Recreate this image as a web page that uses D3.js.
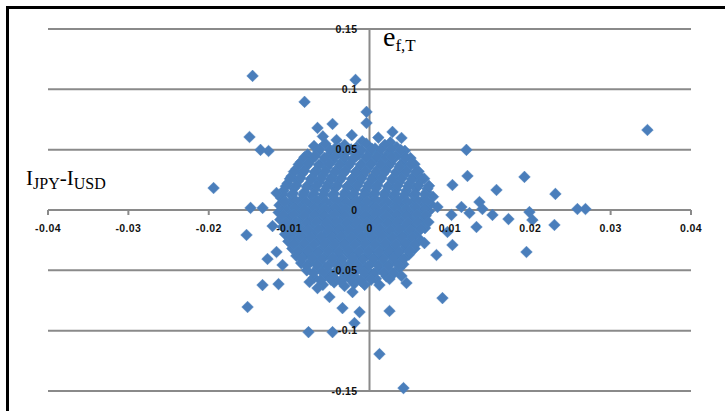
<!DOCTYPE html>
<html><head><meta charset="utf-8">
<script src="https://cdn.jsdelivr.net/npm/d3@7"></script>
<style>body{margin:0;background:#fff;overflow:hidden}</style>
</head><body>
<svg id="chart" width="725" height="411"></svg>
<script>
// ---- data ----
const xTicks = [-0.04, -0.03, -0.02, -0.01, 0, 0.01, 0.02, 0.03, 0.04];
const xTickLabels = ["-0.04", "-0.03", "-0.02", "-0.01", "0", "0.01", "0.02", "0.03", "0.04"];
const yTicks = [-0.15, -0.1, -0.05, 0, 0.05, 0.1, 0.15];
const yTickLabels = ["-0.15", "-0.1", "-0.05", "0", "0.05", "0.1", "0.15"];

// scattered points [I_JPY - I_USD, e_f,T]
const outliers = [
  [-0.01455, 0.1111], [-0.00174, 0.1078], [-0.00808, 0.0896], [-0.01493, 0.0605],
  [-0.01356, 0.0498], [-0.01256, 0.0489], [-0.0046, 0.0713], [-0.00647, 0.068],
  [-0.00037, 0.0813], [-0.00037, 0.0721], [0.03458, 0.0663], [0.01206, 0.0498],
  [-0.0194, 0.0182], [-0.0148, 0.0017], [-0.0133, 0.0017], [-0.0153, -0.0207],
  [-0.01157, 0.0141], [-0.01057, 0.0066], [-0.01206, -0.0133], [-0.01269, -0.0406],
  [-0.01157, -0.0348], [0.01032, 0.0207], [0.01219, 0.0282], [0.0158, 0.0166],
  [0.01928, 0.0274], [0.00846, 0.0025], [0.00734, -0.01], [0.0102, -0.0041],
  [0.01144, 0.0025], [0.01244, -0.0025], [0.01368, 0.0066], [0.01405, 0.0008],
  [0.0153, -0.0041], [0.01331, -0.0141], [0.01729, -0.0075], [0.0199, -0.0017],
  [0.02027, -0.0083], [0.01953, -0.0348], [0.01032, -0.029], [0.0097, -0.0182],
  [0.02313, 0.0133], [0.02301, -0.0124], [0.02587, 0.0008], [0.02687, 0.0008],
  [0.00908, -0.073], [0.00249, -0.0837], [0.00124, -0.1194], [0.00423, -0.1476],
  [-0.00759, -0.1012], [-0.0046, -0.1012], [-0.00124, -0.0846], [-0.00187, -0.0937],
  [-0.00336, -0.0813], [-0.00498, -0.0721], [-0.00211, -0.068], [-0.00647, -0.0647],
  [-0.00746, -0.0597], [0.00124, -0.0622], [0.00249, -0.0572], [0.00398, -0.0547],
  [0.0046, -0.0605], [0.00684, -0.0274], [0.00833, -0.0373],
  [-0.01331, -0.0622], [-0.01132, -0.0614], [-0.01517, -0.0804], [-0.01082, -0.0456],
  [0.00286, 0.0647], [0.00398, 0.0597], [0.00274, 0.044], [0.00373, 0.0357]
];

// dense central cloud, first layer [I_JPY - I_USD, e_f,T]
const cluster = [
  [-0.0058,0.061],[-0.0041,0.058],[-0.0022,0.062],[-0.0009,0.057],[0.0011,0.060],[0.0026,0.056],
  [-0.0069,0.053],[-0.0055,0.055],[-0.0043,0.051],[-0.0031,0.054],[-0.0016,0.052],[-0.0004,0.055],[0.0007,0.051],[0.0019,0.054],[0.0034,0.052],[0.0044,0.049],
  [-0.0077,0.046],[-0.0064,0.048],[-0.0051,0.045],[-0.0039,0.047],[-0.0027,0.049],[-0.0013,0.046],[0.0001,0.048],[0.0013,0.045],[0.0024,0.047],[0.0037,0.046],[0.0051,0.043],
  [-0.0085,0.040],[-0.0072,0.042],[-0.0059,0.039],[-0.0046,0.041],[-0.0034,0.040],[-0.0021,0.042],[-0.0008,0.039],[0.0005,0.041],[0.0017,0.040],[0.0029,0.042],[0.0041,0.039],[0.0056,0.038],
  [-0.0091,0.034],[-0.0079,0.036],[-0.0066,0.033],[-0.0053,0.035],[-0.004,0.034],[-0.0027,0.036],[-0.0015,0.033],[-0.0002,0.035],[0.0011,0.034],[0.0023,0.036],[0.0036,0.033],[0.0048,0.035],[0.0061,0.032],
  [-0.0097,0.028],[-0.0084,0.030],[-0.0071,0.027],[-0.0058,0.029],[-0.0046,0.028],[-0.0033,0.030],[-0.002,0.027],[-0.0008,0.029],[0.0005,0.028],[0.0017,0.030],[0.003,0.027],[0.0043,0.029],[0.0055,0.028],[0.0068,0.026],
  [-0.0102,0.022],[-0.0089,0.024],[-0.0076,0.021],[-0.0063,0.023],[-0.0051,0.022],[-0.0038,0.024],[-0.0025,0.021],[-0.0013,0.023],[0,0.022],[0.0012,0.024],[0.0025,0.021],[0.0037,0.023],[0.005,0.022],[0.0063,0.024],[0.0074,0.020],
  [-0.0107,0.016],[-0.0094,0.018],[-0.0081,0.015],[-0.0068,0.017],[-0.0056,0.016],[-0.0043,0.018],[-0.003,0.015],[-0.0018,0.017],[-0.0005,0.016],[0.0008,0.018],[0.002,0.015],[0.0033,0.017],[0.0046,0.016],[0.0058,0.018],[0.0071,0.015],
  [-0.011,0.010],[-0.0097,0.012],[-0.0084,0.009],[-0.0071,0.011],[-0.0059,0.010],[-0.0046,0.012],[-0.0033,0.009],[-0.0021,0.011],[-0.0008,0.010],[0.0004,0.012],[0.0017,0.009],[0.003,0.011],[0.0042,0.010],[0.0055,0.012],[0.0068,0.009],[0.0079,0.011],
  [-0.0112,0.004],[-0.0099,0.006],[-0.0086,0.003],[-0.0073,0.005],[-0.0061,0.004],[-0.0048,0.006],[-0.0035,0.003],[-0.0023,0.005],[-0.001,0.004],[0.0003,0.006],[0.0015,0.003],[0.0028,0.005],[0.0041,0.004],[0.0053,0.006],[0.0066,0.003],[0.0076,0.005],
  [-0.0113,-0.002],[-0.01,0.000],[-0.0087,-0.003],[-0.0075,-0.001],[-0.0062,-0.002],[-0.0049,0.000],[-0.0037,-0.003],[-0.0024,-0.001],[-0.0011,-0.002],[0.0001,0.000],[0.0014,-0.003],[0.0027,-0.001],[0.0039,-0.002],[0.0052,0.000],[0.0064,-0.003],[0.0074,-0.001],
  [-0.0111,-0.008],[-0.0098,-0.006],[-0.0085,-0.009],[-0.0073,-0.007],[-0.006,-0.008],[-0.0047,-0.006],[-0.0035,-0.009],[-0.0022,-0.007],[-0.0009,-0.008],[0.0003,-0.006],[0.0016,-0.009],[0.0029,-0.007],[0.0041,-0.008],[0.0054,-0.006],[0.0067,-0.009],
  [-0.0108,-0.014],[-0.0095,-0.012],[-0.0082,-0.015],[-0.007,-0.013],[-0.0057,-0.014],[-0.0044,-0.012],[-0.0032,-0.015],[-0.0019,-0.013],[-0.0006,-0.014],[0.0006,-0.012],[0.0019,-0.015],[0.0032,-0.013],[0.0044,-0.014],[0.0057,-0.012],[0.0069,-0.015],
  [-0.0105,-0.020],[-0.0092,-0.018],[-0.0079,-0.021],[-0.0067,-0.019],[-0.0054,-0.020],[-0.0041,-0.018],[-0.0029,-0.021],[-0.0016,-0.019],[-0.0003,-0.020],[0.0009,-0.018],[0.0022,-0.021],[0.0035,-0.019],[0.0047,-0.020],[0.006,-0.018],
  [-0.0101,-0.026],[-0.0088,-0.024],[-0.0075,-0.027],[-0.0063,-0.025],[-0.005,-0.026],[-0.0037,-0.024],[-0.0025,-0.027],[-0.0012,-0.025],[0.0001,-0.026],[0.0013,-0.024],[0.0026,-0.027],[0.0039,-0.025],[0.0051,-0.026],[0.0062,-0.024],
  [-0.0096,-0.032],[-0.0083,-0.030],[-0.007,-0.033],[-0.0058,-0.031],[-0.0045,-0.032],[-0.0032,-0.030],[-0.002,-0.033],[-0.0007,-0.031],[0.0006,-0.032],[0.0018,-0.030],[0.0031,-0.033],[0.0044,-0.031],[0.0056,-0.032],
  [-0.0091,-0.038],[-0.0078,-0.036],[-0.0065,-0.039],[-0.0053,-0.037],[-0.004,-0.038],[-0.0027,-0.036],[-0.0015,-0.039],[-0.0002,-0.037],[0.0011,-0.038],[0.0023,-0.036],[0.0036,-0.039],[0.0049,-0.037],
  [-0.0085,-0.044],[-0.0072,-0.042],[-0.0059,-0.045],[-0.0047,-0.043],[-0.0034,-0.044],[-0.0021,-0.042],[-0.0009,-0.045],[0.0004,-0.043],[0.0017,-0.044],[0.0029,-0.042],[0.0042,-0.045],
  [-0.0078,-0.050],[-0.0064,-0.048],[-0.0051,-0.051],[-0.0039,-0.049],[-0.0026,-0.050],[-0.0013,-0.048],[-0.0001,-0.051],[0.0012,-0.049],[0.0025,-0.050],[0.0037,-0.048],
  [-0.0069,-0.056],[-0.0055,-0.054],[-0.0043,-0.057],[-0.003,-0.055],[-0.0017,-0.056],[-0.0005,-0.054],[0.0008,-0.057],[0.0021,-0.055],
  [-0.0058,-0.062],[-0.0044,-0.060],[-0.0031,-0.063],[-0.0019,-0.061],[-0.0006,-0.062]
];

// dense central cloud, second layer (points lying between the first layer)
const clusterCore = [
  [-0.0062,0.0505],[-0.0049,0.0498],[-0.0037,0.0508],[-0.0023,0.0502],[-0.001,0.0495],[0.0003,0.0507],[0.0014,0.0499],[0.0027,0.0504],[0.0039,0.0497],
  [-0.0081,0.0437],[-0.0068,0.0445],[-0.0056,0.0433],[-0.0043,0.0441],[-0.0031,0.0436],[-0.0017,0.0444],[-0.0004,0.0435],[0.0009,0.0442],[0.0021,0.0434],[0.0032,0.0443],[0.0045,0.0436],
  [-0.0088,0.0378],[-0.0076,0.0384],[-0.0063,0.0374],[-0.005,0.0381],[-0.0037,0.0376],[-0.0024,0.0385],[-0.0011,0.0375],[0.0002,0.0382],[0.0014,0.0377],[0.0026,0.0386],[0.0039,0.0374],[0.0051,0.038],
  [-0.0094,0.0318],[-0.0081,0.0325],[-0.0068,0.0314],[-0.0055,0.0322],[-0.0043,0.0316],[-0.003,0.0324],[-0.0017,0.0315],[-0.0005,0.0321],[0.0008,0.0317],[0.002,0.0326],[0.0033,0.0313],[0.0046,0.0321],[0.0058,0.0316],
  [-0.0099,0.0258],[-0.0086,0.0265],[-0.0073,0.0254],[-0.006,0.0262],[-0.0048,0.0256],[-0.0035,0.0264],[-0.0022,0.0255],[-0.001,0.0261],[0.0003,0.0257],[0.0015,0.0266],[0.0028,0.0253],[0.004,0.0262],[0.0053,0.0256],[0.0065,0.0263],
  [-0.0104,0.0197],[-0.0091,0.0204],[-0.0078,0.0193],[-0.0066,0.0201],[-0.0053,0.0195],[-0.004,0.0203],[-0.0028,0.0194],[-0.0015,0.0202],[-0.0002,0.0196],[0.001,0.0205],[0.0023,0.0192],[0.0035,0.0201],[0.0048,0.0195],[0.0061,0.0203],[0.0072,0.0176],
  [-0.0108,0.0133],[-0.0095,0.0138],[-0.0082,0.0127],[-0.0069,0.0135],[-0.0057,0.0129],[-0.0044,0.0137],[-0.0031,0.0128],[-0.0019,0.0134],[-0.0006,0.013],[0.0007,0.0139],[0.0019,0.0126],[0.0032,0.0135],[0.0044,0.0129],[0.0057,0.0137],[0.0069,0.0128],
  [-0.0105,0.0072],[-0.0092,0.0078],[-0.0079,0.0067],[-0.0066,0.0075],[-0.0054,0.0069],[-0.0041,0.0077],[-0.0029,0.0068],[-0.0016,0.0074],[-0.0003,0.007],[0.0009,0.0079],[0.0022,0.0066],[0.0035,0.0075],[0.0047,0.0069],[0.006,0.0077],[0.0071,0.0068],
  [-0.0106,0.0012],[-0.0093,0.0018],[-0.0081,0.0007],[-0.0068,0.0015],[-0.0055,0.0009],[-0.0043,0.0017],[-0.003,0.0008],[-0.0017,0.0014],[-0.0005,0.001],[0.0008,0.0019],[0.002,0.0006],[0.0033,0.0015],[0.0046,0.0009],[0.0058,0.0017],[0.0069,0.0008],
  [-0.0107,-0.0043],[-0.0094,-0.0037],[-0.0081,-0.0048],[-0.0068,-0.004],[-0.0056,-0.0046],[-0.0043,-0.0038],[-0.003,-0.0047],[-0.0018,-0.0041],[-0.0005,-0.0045],[0.0008,-0.0036],[0.0021,-0.0049],[0.0034,-0.004],[0.0046,-0.0046],[0.0059,-0.0038],[0.007,-0.0047],
  [-0.0104,-0.0103],[-0.0091,-0.0097],[-0.0078,-0.0108],[-0.0066,-0.01],[-0.0053,-0.0106],[-0.0041,-0.0098],[-0.0028,-0.0107],[-0.0015,-0.0101],[-0.0003,-0.0105],[0.001,-0.0096],[0.0023,-0.0109],[0.0035,-0.01],[0.0048,-0.0106],[0.006,-0.0098],
  [-0.0101,-0.0163],[-0.0088,-0.0157],[-0.0076,-0.0168],[-0.0063,-0.016],[-0.005,-0.0166],[-0.0038,-0.0158],[-0.0025,-0.0167],[-0.0012,-0.0161],[0,-0.0165],[0.0013,-0.0156],[0.0026,-0.0169],[0.0038,-0.016],[0.0051,-0.0166],[0.0064,-0.0158],
  [-0.0098,-0.0223],[-0.0085,-0.0217],[-0.0073,-0.0228],[-0.006,-0.022],[-0.0047,-0.0226],[-0.0035,-0.0218],[-0.0022,-0.0227],[-0.0009,-0.0221],[0.0003,-0.0225],[0.0016,-0.0216],[0.0029,-0.0229],[0.0041,-0.022],[0.0054,-0.0226],
  [-0.0094,-0.0283],[-0.0081,-0.0277],[-0.0069,-0.0288],[-0.0056,-0.028],[-0.0043,-0.0286],[-0.0031,-0.0278],[-0.0018,-0.0287],[-0.0005,-0.0281],[0.0007,-0.0285],[0.002,-0.0276],[0.0033,-0.0289],[0.0045,-0.028],[0.0057,-0.0286],
  [-0.0089,-0.0343],[-0.0076,-0.0337],[-0.0064,-0.0348],[-0.0051,-0.034],[-0.0038,-0.0346],[-0.0026,-0.0338],[-0.0013,-0.0347],[-0.0001,-0.0341],[0.0012,-0.0345],[0.0025,-0.0336],[0.0037,-0.0349],[0.005,-0.034],
  [-0.0084,-0.0403],[-0.0071,-0.0397],[-0.0059,-0.0408],[-0.0046,-0.04],[-0.0034,-0.0406],[-0.0021,-0.0398],[-0.0008,-0.0407],[0.0005,-0.0401],[0.0017,-0.0405],[0.003,-0.0396],[0.0042,-0.0409],
  [-0.0078,-0.0463],[-0.0065,-0.0457],[-0.0052,-0.0468],[-0.004,-0.046],[-0.0027,-0.0466],[-0.0015,-0.0458],[-0.0002,-0.0467],[0.0011,-0.0461],[0.0023,-0.0465],[0.0036,-0.0456],
  [-0.007,-0.0523],[-0.0058,-0.0517],[-0.0045,-0.0528],[-0.0033,-0.052],[-0.002,-0.0526],[-0.0007,-0.0518],[0.0005,-0.0527],[0.0018,-0.0521],[0.003,-0.0525],
  [-0.0061,-0.0583],[-0.0048,-0.0577],[-0.0036,-0.0588],[-0.0023,-0.058],[-0.0011,-0.0586],[0.0002,-0.0578]
];

// ---- drawing ----
const svg = d3.select("#chart");
const x = d3.scaleLinear().domain([-0.04, 0.04]).range([48, 691]);
const y = d3.scaleLinear().domain([-0.15, 0.15]).range([391, 29]);
const gridColor = "#8a8a8a";

// outer border
svg.append("rect").attr("x", 7.5).attr("y", 7.5).attr("width", 740).attr("height", 430)
  .attr("fill", "#fff").attr("stroke", "#000").attr("stroke-width", 3);

// horizontal gridlines
svg.append("g").selectAll("line").data(yTicks).join("line")
  .attr("x1", x(-0.04)).attr("x2", x(0.04))
  .attr("y1", d => y(d)).attr("y2", d => y(d))
  .attr("stroke", gridColor).attr("stroke-width", 2);

// vertical axis line
svg.append("line").attr("x1", x(0)).attr("x2", x(0))
  .attr("y1", y(0.15)).attr("y2", y(-0.15))
  .attr("stroke", gridColor).attr("stroke-width", 2);

// x-axis ticks
svg.append("g").selectAll("line").data(xTicks).join("line")
  .attr("x1", d => x(d)).attr("x2", d => x(d))
  .attr("y1", y(0)).attr("y2", y(0) + 5)
  .attr("stroke", gridColor).attr("stroke-width", 2);

// points
const diamond = d3.symbol().type(d3.symbolSquare).size(68)();
const allPts = cluster.concat(clusterCore, outliers);
svg.append("g").selectAll("path").data(allPts).join("path")
  .attr("d", diamond)
  .attr("transform", d => `translate(${x(d[0])},${y(d[1])}) rotate(45)`)
  .attr("fill", "#4a7ebb")
  .attr("stroke", "#4d81bf").attr("stroke-width", 0.5);

// tick labels
const lblFont = "'Liberation Sans', Arial, sans-serif";
svg.append("g").selectAll("text").data(xTicks).join("text")
  .attr("x", d => x(d)).attr("y", y(0) + 22)
  .attr("text-anchor", "middle")
  .attr("font-family", lblFont).attr("font-size", 10.5).attr("font-weight", "bold")
  .attr("letter-spacing", 0.4)
  .attr("fill", "#111")
  .text((d, i) => xTickLabels[i]);

svg.append("g").selectAll("text").data(yTicks).join("text")
  .attr("x", x(0) - 12).attr("y", d => y(d) + 3.5)
  .attr("text-anchor", "end")
  .attr("font-family", lblFont).attr("font-size", 10.5).attr("font-weight", "bold")
  .attr("letter-spacing", 0.4)
  .attr("fill", "#111")
  .text((d, i) => yTickLabels[i]);

// axis titles
const serif = "'Liberation Serif', 'Times New Roman', serif";
const yTitle = svg.append("text").attr("x", 383).attr("y", 46)
  .attr("font-family", serif).attr("fill", "#000");
yTitle.append("tspan").attr("font-size", 28).text("e");
yTitle.append("tspan").attr("font-size", 17).attr("dy", 5).text("f,T");

const xTitle = svg.append("text").attr("x", 26).attr("y", 185)
  .attr("font-family", serif).attr("fill", "#000");
xTitle.append("tspan").attr("font-size", 21).text("I");
xTitle.append("tspan").attr("font-size", 16).attr("dy", 4).text("JPY");
xTitle.append("tspan").attr("font-size", 21).attr("dy", -4).text("-I");
xTitle.append("tspan").attr("font-size", 16).attr("dy", 4).text("USD");
</script>
</body></html>
